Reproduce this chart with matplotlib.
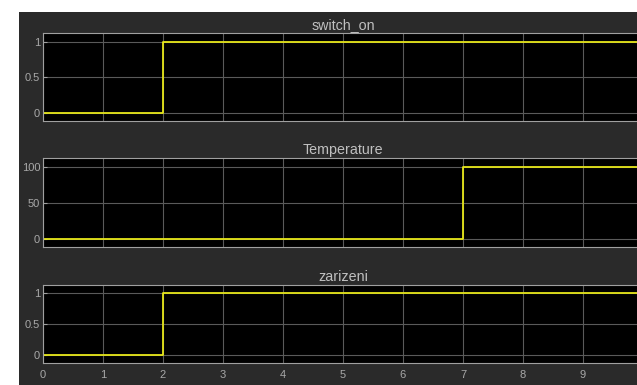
import matplotlib
matplotlib.use("Agg")
import matplotlib.pyplot as plt
from matplotlib.patches import Rectangle

plt.rcParams['font.family'] = ['Liberation Sans', 'DejaVu Sans']

time = [0, 2, 7, 10]
switch_on = [0, 1, 1, 1]
temperature = [0, 0, 100, 100]
zarizeni = [0, 1, 1, 1]
titles = ["switch_on", "Temperature", "zarizeni"]
x_ticks = list(range(0, 11))

W, H = 637, 385
fig = plt.figure(figsize=(W / 100, H / 100), dpi=100)
fig.patch.set_facecolor('white')
fig.patches.append(Rectangle((19 / W, 0), 1, 1 - 12 / H, transform=fig.transFigure,
                             facecolor='#2a2a2a', edgecolor='none', zorder=-10))

left = 43 / W
right = 643 / W
panels = [
    (33, 121, switch_on, (-0.113, 1.127), [0, 0.5, 1], ['0', '0.5', '1']),
    (158, 247, temperature, (-11.3, 112.7), [0, 50, 100], ['0', '50', '100']),
    (285, 363, zarizeni, (-0.13, 1.13), [0, 0.5, 1], ['0', '0.5', '1']),
]

for i, (top, bot, vals, ylim, yt, ytl) in enumerate(panels):
    ax = fig.add_axes([left, 1 - bot / H, right - left, (bot - top) / H])
    ax.set_facecolor('black')
    ax.plot(time, vals, drawstyle='steps-post', color='#e6e619', lw=1.3)
    ax.set_xlim(0, 10)
    ax.set_ylim(*ylim)
    ax.set_yticks(yt)
    ax.set_yticklabels(ytl)
    ax.set_xticks(x_ticks)
    if i == 2:
        ax.set_xticklabels([str(t) for t in x_ticks])
    else:
        ax.set_xticklabels([])
    ax.grid(True, color='#5a5a5a', lw=0.8)
    for s in ax.spines.values():
        s.set_color('#a0a0a0')
        s.set_linewidth(0.8)
    ax.tick_params(direction='in', length=3, colors='#a0a0a0', labelcolor='#a8a8a8',
                   labelsize=8, right=True, top=False, pad=2)
    ax.tick_params(axis='x', length=0, pad=5)
    ax.set_title(titles[i], color='#c0c0c0', fontsize=10.3, pad=3)

fig.savefig('out.png', dpi=100, facecolor=fig.get_facecolor())
